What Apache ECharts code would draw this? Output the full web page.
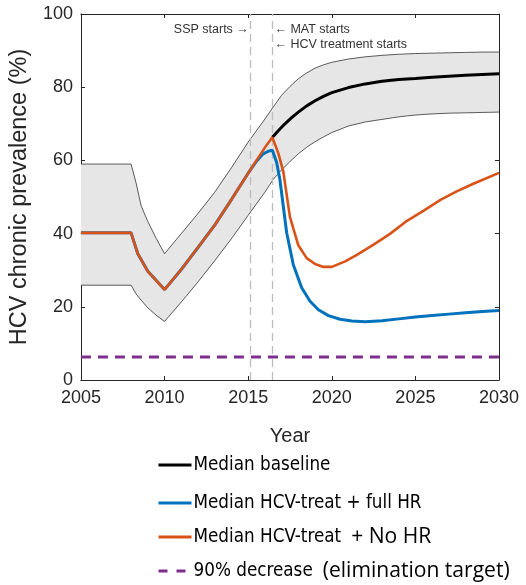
<!DOCTYPE html>
<html><head><meta charset="utf-8">
<script src="https://cdn.jsdelivr.net/npm/echarts@6/dist/echarts.min.js"></script>
<style>html,body{margin:0;padding:0;background:#fff}#c{width:526px;height:585px}</style>
</head><body><div id="c"></div>
<script>
// ---------- data ----------
const bandYears = [2005, 2008, 2008.3, 2008.6, 2009, 2009.5, 2010, 2011, 2012, 2013, 2014, 2015, 2016, 2016.5, 2017, 2017.5, 2018, 2018.5, 2019, 2019.5, 2020, 2021, 2022, 2023, 2024, 2025, 2026, 2027, 2028, 2029, 2030];
const bandUpper = [59, 59, 53.8, 47.6, 43.3, 38.7, 34.5, 40, 45.5, 51.3, 58, 65, 71.3, 74.6, 77.8, 80.2, 82.3, 83.9, 85.2, 86.1, 86.8, 87.7, 88.3, 88.7, 89, 89.2, 89.3, 89.4, 89.5, 89.6, 89.6];
const bandLower = [25.9, 25.9, 23.5, 21.8, 19.7, 17.7, 16, 21.3, 26.8, 32.6, 38.6, 45, 51.3, 54.8, 57.4, 59.7, 61.8, 63.6, 65.1, 66.4, 67.6, 69.4, 70.5, 71.2, 71.9, 72.4, 72.7, 72.9, 73, 73.1, 73.2];

const baselineYears = [2016.45, 2016.8, 2017.2, 2017.6, 2018, 2018.5, 2019, 2019.5, 2020, 2021, 2022, 2023, 2024, 2025, 2026, 2027, 2028, 2029, 2030];
const baselineValues = [66.3, 68.1, 70.0, 71.7, 73.2, 74.9, 76.3, 77.5, 78.5, 79.9, 80.9, 81.6, 82.1, 82.4, 82.75, 83.0, 83.25, 83.5, 83.7];

const fullHRYears = [2005, 2008, 2008.4, 2009, 2010, 2011, 2012, 2013, 2014, 2015, 2015.5, 2015.9, 2016.2, 2016.45, 2016.7, 2016.9, 2017.3, 2017.7, 2018.2, 2018.7, 2019.2, 2019.8, 2020.5, 2021.2, 2022, 2023, 2024, 2025, 2026, 2027, 2028, 2029, 2030];
const fullHRValues = [40.2, 40.2, 34.5, 29.7, 24.7, 30.2, 36.2, 42.3, 49.3, 56.5, 59.8, 61.8, 62.5, 62.8, 59.5, 54.7, 40.3, 31.5, 25.2, 21.5, 19.2, 17.6, 16.6, 16.1, 15.9, 16.2, 16.7, 17.2, 17.6, 18.0, 18.4, 18.7, 19.0];

const noHRYears = [2005, 2008, 2008.4, 2009, 2010, 2011, 2012, 2013, 2014, 2015, 2015.5, 2016, 2016.45, 2016.8, 2017.1, 2017.5, 2018, 2018.5, 2019, 2019.5, 2020, 2020.8, 2021.5, 2022.5, 2023.5, 2024.5, 2025.5, 2026.5, 2027.5, 2028.5, 2030];
const noHRValues = [40.2, 40.2, 34.5, 29.7, 24.7, 30.2, 36.2, 42.3, 49.3, 56.5, 60, 63.5, 66.3, 62, 57, 44.5, 36.8, 33.3, 31.7, 30.9, 30.9, 32.4, 34.2, 37.0, 40.0, 43.5, 46.3, 49.2, 51.6, 53.7, 56.6];

const targetYears = [2005, 2030];
const targetValues = [6.3, 6.3];

const sspYear = 2015.1;
const matYear = 2016.45;

const seriesNames = ['Median baseline', 'Median HCV-treat + full HR', 'Median HCV-treat + No HR', '90% decrease (elimination target)'];
const annotations = ['SSP starts \u2192', '\u2190 MAT starts', '\u2190 HCV treatment starts'];
const xAxisTitle = 'Year';
const yAxisTitle = 'HCV chronic prevalence (%)';

// ---------- helpers ----------
const zip = (xs, ys) => xs.map((x, i) => [x, ys[i]]);
const ctx = document.createElement('canvas').getContext('2d');
function tw(font, s) { ctx.font = font; return ctx.measureText(s).width; }
function hasFont(fam) {
  return Math.abs(tw('23px ' + fam + ', monospace', 'Median baseline') - tw('23px ' + fam + ', serif', 'Median baseline')) < 1;
}
let mainFam = '"Liberation Sans", Arial, sans-serif';
for (const f of ['"Liberation Sans Narrow"', '"DejaVu Sans Condensed"']) {
  if (hasFont(f)) { mainFam = f; break; }
}
const mainSize = Math.min(137 / tw('10px ' + mainFam, 'Median baseline') * 10, 23);
const extraFam = '"Open Sans", Lato, sans-serif';
const extraSize = 187 / tw('10px ' + extraFam, '(elimination target)') * 10;

const colors = ['#000000', '#0072BD', '#D95319', '#7E2F8E'];
const legendCenters = [465, 503, 537, 571];
const LH = 26;

function fmt(name) {
  if (name === seriesNames[2]) return '{a|Median HCV-treat}{s| }{b|+ No HR}';
  if (name === seriesNames[3]) return '{a|90% decrease}{s| }{b|(elimination target)}';
  return '{a|' + name + '}';
}

const chart = echarts.init(document.getElementById('c'), null, {renderer: 'canvas'});
const axisCommon = {
  type: 'value', splitLine: {show: false},
  axisLine: {show: true, onZero: false, lineStyle: {color: '#262626', width: 1}},
  axisTick: {show: true, inside: true, length: 4, lineStyle: {color: '#262626'}}
};
const option = {
  animation: false,
  backgroundColor: '#fff',
  grid: {left: 75, right: 27, top: 14, bottom: 205, containLabel: false},
  xAxis: [
    Object.assign({}, axisCommon, {min: 2005, max: 2030, interval: 5, position: 'bottom',
      name: xAxisTitle, nameLocation: 'middle', nameGap: 46,
      nameTextStyle: {fontSize: 20, color: '#262626', fontFamily: '"Liberation Sans", Arial'},
      axisLabel: {fontSize: 18, color: '#262626', margin: 9, fontFamily: '"Liberation Sans", Arial', formatter: v => String(v)}}),
    Object.assign({}, axisCommon, {min: 2005, max: 2030, interval: 5, position: 'top', axisLabel: {show: false}})
  ],
  yAxis: [
    Object.assign({}, axisCommon, {min: 0, max: 100, interval: 20, position: 'left',
      name: yAxisTitle, nameLocation: 'middle', nameGap: 35,
      nameTextStyle: {fontSize: 23.5, color: '#262626', fontFamily: '"Liberation Sans", Arial'},
      axisLabel: {fontSize: 18, color: '#262626', margin: 8, fontFamily: '"Liberation Sans", Arial'}}),
    Object.assign({}, axisCommon, {min: 0, max: 100, interval: 20, position: 'right', axisLabel: {show: false}})
  ],
  legend: seriesNames.map((n, i) => ({
    data: [i === 3
      ? {name: n, itemStyle: {opacity: 0}, lineStyle: {type: [9, 9], width: 3}}
      : {name: n, itemStyle: {opacity: 0}, lineStyle: {width: 3}}],
    left: 157, top: legendCenters[i] - LH / 2, orient: 'horizontal',
    itemWidth: 33, itemHeight: 14, padding: 0, selectedMode: false,
    formatter: fmt,
    textStyle: {color: '#000', lineHeight: LH, padding: [0, 0, 0, -3],
      rich: {
        a: {fontFamily: mainFam, fontSize: mainSize, color: '#000', lineHeight: LH},
        b: {fontFamily: extraFam, fontSize: extraSize, color: '#000', lineHeight: LH},
        s: {width: 10, lineHeight: LH}
      }}
  })),
  series: [
    {
      type: 'custom', silent: true, z: 1, clip: true,
      data: bandYears.map((y, i) => [y, bandLower[i], bandUpper[i]]),
      encode: {x: 0, y: [1, 2]},
      renderItem: (params, api) => {
        if (params.dataIndex !== 0) return null;
        const pts = [];
        for (let i = 0; i < bandYears.length; i++) pts.push(api.coord([bandYears[i], bandUpper[i]]));
        for (let i = bandYears.length - 1; i >= 0; i--) pts.push(api.coord([bandYears[i], bandLower[i]]));
        return {type: 'polygon', shape: {points: pts}, style: {fill: '#e6e6e6', stroke: null}};
      }
    },
    {type: 'line', name: 'upperEdge', data: zip(bandYears, bandUpper), symbol: 'none', silent: true, z: 2,
      lineStyle: {color: '#333', width: 0.8}},
    {type: 'line', name: 'lowerEdge', data: zip(bandYears, bandLower), symbol: 'none', silent: true, z: 2,
      lineStyle: {color: '#333', width: 0.8}},
    {type: 'line', name: 'markers', data: [], symbol: 'none', silent: true, z: 3,
      markLine: {silent: true, symbol: ['none', 'none'], label: {show: false},
        lineStyle: {color: '#bdbdbd', type: [8, 5], width: 1.3},
        data: [{xAxis: sspYear}, {xAxis: matYear}]}},
    {type: 'line', name: seriesNames[3], data: zip(targetYears, targetValues), symbol: 'none', z: 4,
      lineStyle: {color: colors[3], width: 3, type: [10, 7]}, itemStyle: {color: colors[3]}},
    {type: 'line', name: seriesNames[0], data: zip(baselineYears, baselineValues), symbol: 'none', z: 5,
      lineStyle: {color: colors[0], width: 3}, itemStyle: {color: colors[0]}},
    {type: 'line', name: seriesNames[1], data: zip(fullHRYears, fullHRValues), symbol: 'none', z: 6,
      lineStyle: {color: colors[1], width: 3}, itemStyle: {color: colors[1]}},
    {type: 'line', name: seriesNames[2], data: zip(noHRYears, noHRValues), symbol: 'none', z: 7,
      lineStyle: {color: colors[2], width: 2.6}, itemStyle: {color: colors[2]}}
  ]
};
chart.setOption(option);

const sspPx = chart.convertToPixel({xAxisIndex: 0}, sspYear);
const matPx = chart.convertToPixel({xAxisIndex: 0}, matYear);
const row1 = chart.convertToPixel({yAxisIndex: 0}, 95.7);
const row2 = chart.convertToPixel({yAxisIndex: 0}, 91.6);
const annFont = {fontSize: 12.5, fontFamily: '"Liberation Sans", Arial', fill: '#333'};
chart.setOption({
  graphic: [
    {type: 'text', x: sspPx - 1, y: row1, z: 10, style: Object.assign({text: annotations[0], align: 'right', verticalAlign: 'middle'}, annFont)},
    {type: 'text', x: matPx + 2, y: row1, z: 10, style: Object.assign({text: annotations[1], align: 'left', verticalAlign: 'middle'}, annFont)},
    {type: 'text', x: matPx + 2, y: row2, z: 10, style: Object.assign({text: annotations[2], align: 'left', verticalAlign: 'middle'}, annFont)}
  ]
});
</script>
</body></html>
